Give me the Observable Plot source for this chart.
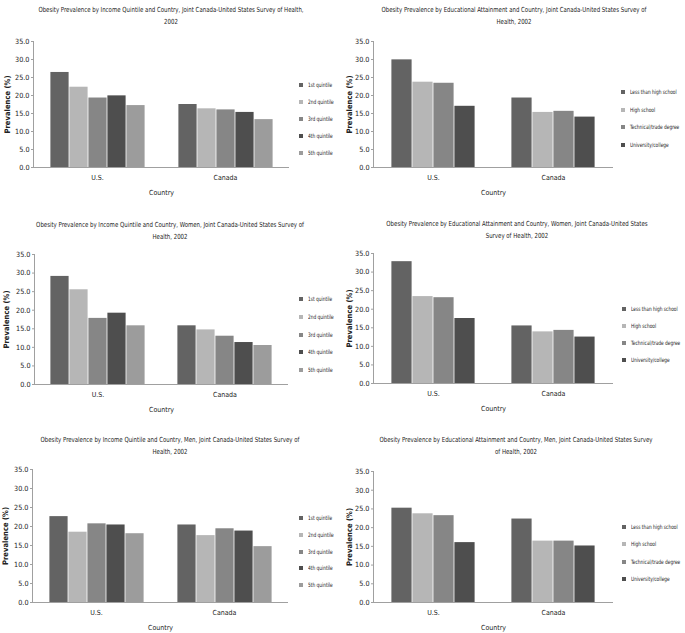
<!DOCTYPE html>
<html><head><meta charset="utf-8">
<script src="https://cdn.jsdelivr.net/npm/d3@7"></script>
<script src="https://cdn.jsdelivr.net/npm/@observablehq/plot@0.6"></script>
<style>
body{margin:0;background:#fff;}
#root{position:relative;width:685px;height:633px;overflow:hidden;font-family:"DejaVu Sans Condensed","Liberation Sans Narrow",sans-serif;color:#222;}
.title{position:absolute;width:340px;text-align:center;font-size:7px;line-height:12px;white-space:nowrap;transform:scaleX(0.86);transform-origin:50% 0;}
.item{position:absolute;white-space:nowrap;font-size:6px;line-height:8px;}
.item span.txt{display:inline-block;transform:scaleX(0.8);transform-origin:0 50%;}
.sw{position:absolute;width:4px;height:4px;left:-9px;top:2px;}
.plotbox{position:absolute;}
.plotbox svg text{fill:#222;}
.plotbox svg [aria-label="y-axis label"] text{font-weight:bold;font-size:7.6px;}
.plotbox svg [aria-label="y-axis tick label"] text{font-size:7.2px;}
</style></head><body><div id="root"></div>
<script>
// ---- data ----
const countries = ["U.S.", "Canada"];
const quintiles = ["1st quintile", "2nd quintile", "3rd quintile", "4th quintile", "5th quintile"];
const education = ["Less than high school", "High school", "Technical/trade degree", "University/college"];
const quintileColors = ["#636363", "#b6b6b6", "#868686", "#4e4e4e", "#9c9c9c"];
const educationColors = ["#636363", "#b6b6b6", "#868686", "#4e4e4e"];
const yTicks = [0, 5, 10, 15, 20, 25, 30, 35];

const incomeAllUS = [26.4, 22.3, 19.3, 19.9, 17.2];
const incomeAllCA = [17.5, 16.3, 16.0, 15.3, 13.3];
const educAllUS = [29.9, 23.7, 23.4, 17.0];
const educAllCA = [19.3, 15.3, 15.6, 14.0];
const incomeWomenUS = [29.1, 25.5, 17.8, 19.2, 15.8];
const incomeWomenCA = [15.8, 14.7, 13.0, 11.3, 10.5];
const educWomenUS = [32.8, 23.4, 23.1, 17.5];
const educWomenCA = [15.5, 13.9, 14.3, 12.5];
const incomeMenUS = [22.6, 18.5, 20.7, 20.4, 18.1];
const incomeMenCA = [20.4, 17.6, 19.4, 18.8, 14.7];
const educMenUS = [25.2, 23.7, 23.2, 16.0];
const educMenCA = [22.3, 16.4, 16.4, 15.1];

const titles = [
  ["Obesity Prevalence by Income Quintile and Country, Joint Canada-United States Survey of Health,", "2002"],
  ["Obesity Prevalence by Educational Attainment and Country, Joint Canada-United States Survey of", "Health, 2002"],
  ["Obesity Prevalence by Income Quintile and Country, Women, Joint Canada-United States Survey of", "Health, 2002"],
  ["Obesity Prevalence by Educational Attainment and Country, Women, Joint Canada-United States", "Survey of Health, 2002"],
  ["Obesity Prevalence by Income Quintile and Country, Men, Joint Canada-United States Survey of", "Health, 2002"],
  ["Obesity Prevalence by Educational Attainment and Country, Men, Joint Canada-United States Survey", "of Health, 2002"]
];

// ---- layout ----
const panels = [
  {groups: quintiles, colors: quintileColors, us: incomeAllUS, ca: incomeAllCA, px: 0, axL: 33, axR: 289, top: 41, bot: 167, ylab: 8, tcx: 171, tcy: 10, lgx: 308, lgy: 85, lgs: 17},
  {groups: education, colors: educationColors, us: educAllUS, ca: educAllCA, px: 340, axL: 372, axR: 613, top: 41, bot: 167, ylab: 349, tcx: 514, tcy: 10, lgx: 630, lgy: 92, lgs: 17.7},
  {groups: quintiles, colors: quintileColors, us: incomeWomenUS, ca: incomeWomenCA, px: 0, axL: 33, axR: 288, top: 254, bot: 384, ylab: 6, tcx: 170, tcy: 225, lgx: 308, lgy: 299, lgs: 17.8},
  {groups: education, colors: educationColors, us: educWomenUS, ca: educWomenCA, px: 340, axL: 373, axR: 613, top: 253, bot: 383, ylab: 350, tcx: 517, tcy: 224, lgx: 631, lgy: 309, lgs: 17},
  {groups: quintiles, colors: quintileColors, us: incomeMenUS, ca: incomeMenCA, px: 0, axL: 32, axR: 288, top: 469, bot: 602, ylab: 6, tcx: 170, tcy: 440, lgx: 308, lgy: 518, lgs: 16.8},
  {groups: education, colors: educationColors, us: educMenUS, ca: educMenCA, px: 340, axL: 373, axR: 613, top: 471, bot: 602, ylab: 350, tcx: 516, tcy: 440, lgx: 631, lgy: 527, lgs: 17.3}
];

const root = document.getElementById("root");

panels.forEach((p, i) => {
  // title
  const t = document.createElement("div");
  t.className = "title";
  t.style.left = (p.tcx - 170) + "px";
  t.style.top = (p.tcy - 6) + "px";
  t.innerHTML = titles[i].join("<br>");
  root.appendChild(t);

  // data rows
  const rows = countries.flatMap((c, ci) => p.groups.map((g, gi) => ({country: c, group: g, value: (ci === 0 ? p.us : p.ca)[gi]})));

  const svgLeft = p.px;
  const svgTop = p.top - 8;
  const width = p.axR - svgLeft + 4;
  const marginBottom = 32;
  const height = p.bot - svgTop + marginBottom;
  const chart = Plot.plot({
    width, height,
    marginLeft: p.axL - svgLeft,
    marginRight: svgLeft + width - p.axR,
    marginTop: 8,
    marginBottom,
    style: {fontFamily: '"DejaVu Sans Condensed","Liberation Sans Narrow",sans-serif', fontSize: "7px", color: "#a0a0a0", background: "transparent", overflow: "visible"},
    fx: {domain: countries, padding: 0, label: "Country", axis: "bottom", tickSize: 0, tickPadding: 8, labelAnchor: "center", labelOffset: 27},
    x: {domain: p.groups, axis: null, paddingInner: 0, paddingOuter: p.groups.length === 5 ? 0.75 : 0.8},
    y: {domain: [0, 35], ticks: yTicks, tickFormat: d3.format(".1f"), tickSize: 2, tickPadding: 2, label: "Prevalence (%)", labelAnchor: "center", labelOffset: p.axL - p.ylab + 4, labelArrow: "none"},
    color: {domain: p.groups, range: p.colors},
    marks: [
      Plot.barY(rows, {fx: "country", x: "group", y: "value", fill: "group", insetLeft: 0.4, insetRight: 0.4}),
      Plot.ruleY([0], {stroke: "#a0a0a0"}),
      Plot.frame({anchor: "left", facetAnchor: "left", stroke: "#a0a0a0"})
    ]
  });
  const box = document.createElement("div");
  box.className = "plotbox";
  box.style.left = svgLeft + "px";
  box.style.top = svgTop + "px";
  box.appendChild(chart);
  root.appendChild(box);

  // legend
  p.groups.forEach((g, gi) => {
    const it = document.createElement("div");
    it.className = "item";
    it.style.left = p.lgx + "px";
    it.style.top = (p.lgy + gi * p.lgs - 4) + "px";
    const sw = document.createElement("span");
    sw.className = "sw";
    sw.style.background = p.colors[gi];
    it.appendChild(sw);
    const tx = document.createElement("span");
    tx.className = "txt";
    tx.textContent = g;
    it.appendChild(tx);
    root.appendChild(it);
  });
});
</script>
</body></html>
